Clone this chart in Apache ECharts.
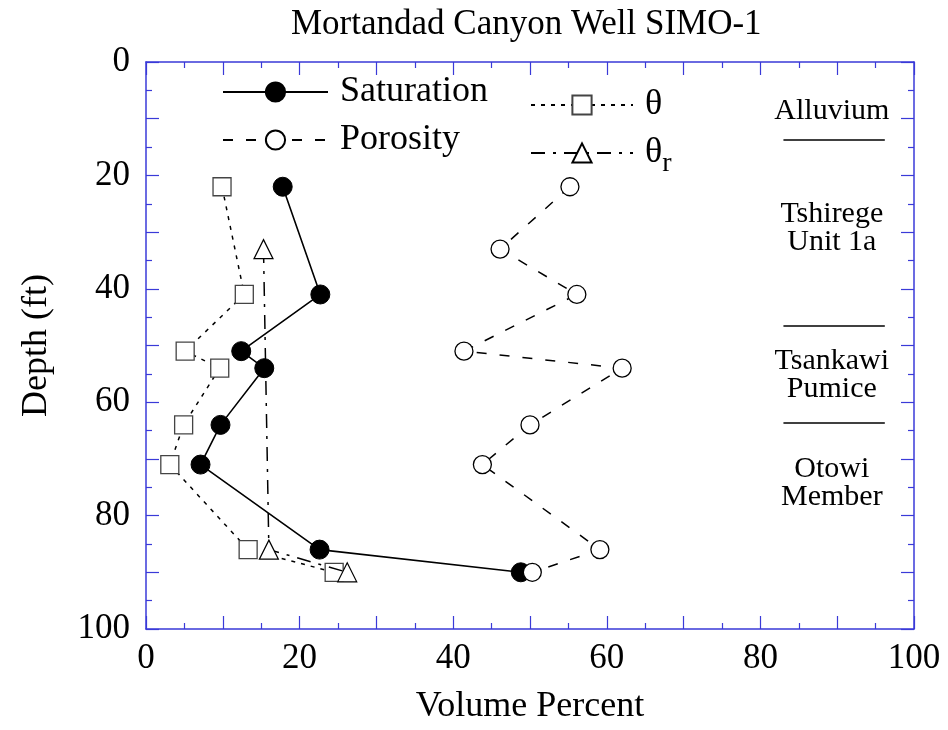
<!DOCTYPE html>
<html>
<head>
<meta charset="utf-8">
<script src="https://cdn.jsdelivr.net/npm/echarts@6/dist/echarts.min.js"></script>
<style>
html,body{margin:0;padding:0;background:#fff;}
#chart{width:948px;height:730px;}
</style>
</head>
<body>
<div id="chart"></div>
<script>
// ---- data ----
const titleText = 'Mortandad Canyon Well SIMO-1';
const xTickLabels = ['0', '20', '40', '60', '80', '100'];
const yTickLabels = ['0', '20', '40', '60', '80', '100'];

const satDepth = [22, 41, 51, 54, 64, 71, 86, 90];
const satValues = [17.8, 22.7, 12.4, 15.4, 9.7, 7.1, 22.6, 48.8];

const porDepth = [22, 33, 41, 51, 54, 64, 71, 86, 90];
const porValues = [55.2, 46.1, 56.1, 41.4, 62.0, 50.0, 43.8, 59.1, 50.3];

const thetaDepth = [22, 41, 51, 54, 64, 71, 86, 90];
const thetaValues = [9.9, 12.8, 5.1, 9.6, 4.9, 3.1, 13.3, 24.5];

const thetaRDepth = [33, 86, 90];
const thetaRValues = [15.3, 16.0, 26.2];

const unitNames = ['Alluvium', 'Tshirege\nUnit 1a', 'Tsankawi\nPumice', 'Otowi\nMember'];
const unitLabelDepth = [8.7, 29.3, 55.3, 74.3];
const unitLabelX = [89.3, 89.3, 89.3, 89.3];
const unitBoundaryDepth = [13.8, 46.6, 63.7];
const unitBoundaryX = [83.0, 96.2];

// ---- chart ----
const FONT = '"Liberation Serif", "Times New Roman", serif';
const AXIS_BLUE = '#3a3ad8';

function pairs(xs, ys) { return xs.map((x, i) => [x, ys[i]]); }

const chart = echarts.init(document.getElementById('chart'), null, {renderer: 'canvas'});

function axisCommon(showLabels, labels) {
  return {
    type: 'value', min: 0, max: 100, interval: 10,
    axisLine: {show: true, onZero: false, lineStyle: {color: AXIS_BLUE, width: 1.5}},
    axisTick: {show: true, inside: true, length: 13, lineStyle: {color: AXIS_BLUE, width: 1.2}},
    minorTick: {show: true, splitNumber: 2, length: 6, lineStyle: {color: AXIS_BLUE, width: 1.2}},
    splitLine: {show: false},
    axisLabel: {
      show: showLabels,
      fontFamily: FONT, fontSize: 35, color: '#000',
      formatter: v => labels.indexOf(String(v)) >= 0 ? String(v) : ''
    }
  };
}

const xBottom = Object.assign(axisCommon(true, xTickLabels), {
  position: 'bottom',
  name: 'Volume Percent', nameLocation: 'middle', nameGap: 60,
  nameTextStyle: {fontFamily: FONT, fontSize: 36, color: '#000'}
});
xBottom.axisLabel.margin = 12;
const xTop = Object.assign(axisCommon(false, xTickLabels), {position: 'top'});

const yLeft = Object.assign(axisCommon(true, yTickLabels), {
  position: 'left', inverse: true,
  name: 'Depth (ft)', nameLocation: 'middle', nameGap: 91, nameRotate: 90,
  nameTextStyle: {fontFamily: FONT, fontSize: 36, color: '#000'}
});
yLeft.axisLabel.margin = 16;
const yRight = Object.assign(axisCommon(false, yTickLabels), {position: 'right', inverse: true});

const legendText = {fontFamily: FONT, fontSize: 36, color: '#000', lineHeight: 36,
  padding: [0, 0, 0, 7],
  rich: {t: {fontFamily: FONT, fontSize: 36, color: '#000'},
         s: {fontFamily: FONT, fontSize: 28, color: '#000', padding: [22, 0, 0, 0]}}};

const option = {
  backgroundColor: '#fff',
  animation: false,
  title: {
    text: titleText, left: 286, top: 2,
    textStyle: {fontFamily: FONT, fontSize: 35, fontWeight: 'normal', color: '#000'}
  },
  grid: {left: 146, top: 62, right: 34, bottom: 98, containLabel: false},
  legend: [
    {
      data: ['Saturation', 'Porosity'], orient: 'vertical', left: 222, top: 74,
      padding: 0, itemWidth: 105, itemHeight: 24, itemGap: 12,
      textStyle: legendText, selectedMode: false
    },
    {
      data: ['θ', 'θr'], orient: 'vertical', left: 530, top: 87,
      padding: 0, itemWidth: 102, itemHeight: 24, itemGap: 12,
      textStyle: legendText, selectedMode: false,
      formatter: n => n === 'θr' ? '{t|θ}{s|r}' : '{t|θ}'
    }
  ],
  xAxis: [xBottom, xTop],
  yAxis: [yLeft, yRight],
  series: [
    {
      name: 'Saturation', type: 'line', data: pairs(satValues, satDepth),
      symbol: 'circle', symbolSize: 19,
      itemStyle: {color: '#000', borderColor: '#000', borderWidth: 1},
      lineStyle: {color: '#000', width: 1.6, type: 'solid'},
      z: 3
    },
    {
      name: 'Porosity', type: 'line', data: pairs(porValues, porDepth),
      symbol: 'circle', symbolSize: 18,
      itemStyle: {color: '#fff', borderColor: '#000', borderWidth: 1.3},
      lineStyle: {color: '#000', width: 1.5, type: [10, 13]},
      z: 4
    },
    {
      name: 'θ', type: 'line', data: pairs(thetaValues, thetaDepth),
      symbol: 'rect', symbolSize: 18,
      itemStyle: {color: '#fff', borderColor: '#444', borderWidth: 1.3},
      lineStyle: {color: '#000', width: 1.5, type: [4, 6]},
      z: 5
    },
    {
      name: 'θr', type: 'line', data: pairs(thetaRValues, thetaRDepth),
      symbol: 'triangle', symbolSize: 19,
      itemStyle: {color: '#fff', borderColor: '#000', borderWidth: 1.2},
      lineStyle: {color: '#000', width: 1.5, type: [14, 8, 3, 8]},
      z: 6
    },
    {
      name: 'units', type: 'scatter', silent: true,
      data: unitNames.map((n, i) => ({value: [unitLabelX[i], unitLabelDepth[i]], name: n})),
      symbolSize: 0,
      itemStyle: {color: '#000', opacity: 1},
      emphasis: {disabled: true},
      label: {
        show: true, position: 'inside', formatter: p => p.name, opacity: 1,
        fontFamily: FONT, fontSize: 30, lineHeight: 28, color: '#000', align: 'center',
        textBorderWidth: 0, textShadowBlur: 0
      },
      markLine: {
        silent: true, symbol: ['none', 'none'], label: {show: false},
        lineStyle: {color: '#000', width: 1.5, type: 'solid'},
        data: unitBoundaryDepth.map(d => [{coord: [unitBoundaryX[0], d]}, {coord: [unitBoundaryX[1], d]}])
      }
    }
  ]
};
chart.setOption(option);
</script>
</body>
</html>
